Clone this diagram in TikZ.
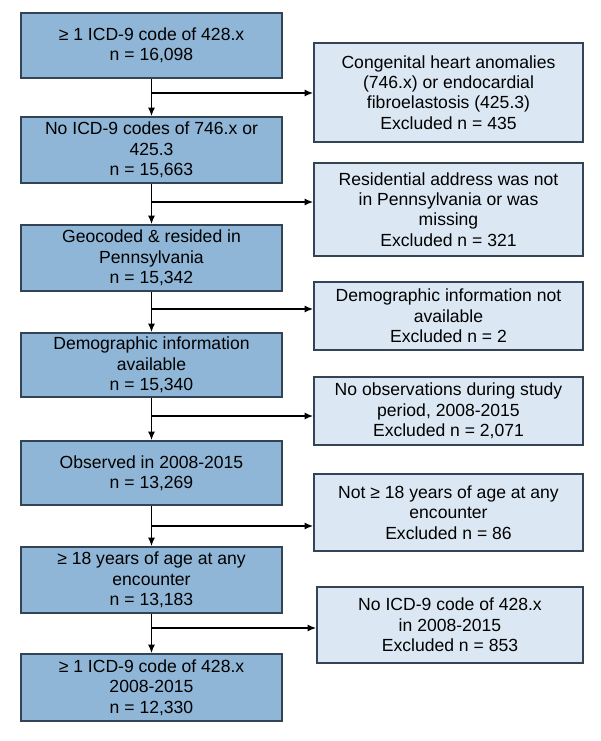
\documentclass[tikz,border=0pt]{standalone}
\usepackage{fontspec}
\setmainfont{Liberation Sans}
\usetikzlibrary{arrows.meta,calc}

\definecolor{keptblue}{RGB}{143,182,214}
\definecolor{exclblue}{RGB}{219,232,243}
\definecolor{boxline}{RGB}{50,68,86}

\begin{document}
\begin{tikzpicture}[x=0.02cm,y=-0.02cm,
		kept/.style={draw=boxline,line width=1pt,fill=keptblue,align=center,
			minimum width=5.22cm,inner sep=0pt,font=\fontsize{10}{11.6}\selectfont},
		excl/.style={draw=boxline,line width=1pt,fill=exclblue,align=center,
			minimum width=5.38cm,inner sep=0pt,font=\fontsize{10}{11.6}\selectfont},
		flow/.style={-{Latex[length=1.7mm,width=1.4mm]},line width=0.8pt}]
		\useasboundingbox (0,0) rectangle (600,741);
		%----------------------------------------------------
		% Cohort kept at each step (left column)
		%----------------------------------------------------
		\node[kept,minimum height=1.30cm] (K1) at (151.5,45.5) {≥ 1 ICD-9 code of 428.x\\n = 16,098};
		\node[kept,minimum height=1.32cm] (K2) at (151.5,150) {No ICD-9 codes of 746.x or\\425.3\\n = 15,663};
		\node[kept,minimum height=1.32cm] (K3) at (151.5,258) {Geocoded \& resided in\\Pennsylvania\\n = 15,342};
		\node[kept,minimum height=1.28cm] (K4) at (151.5,365) {Demographic information\\available\\n = 15,340};
		\node[kept,minimum height=1.28cm] (K5) at (151.5,473) {Observed in 2008-2015\\n = 13,269};
		\node[kept,minimum height=1.32cm] (K6) at (151.5,580) {≥ 18 years of age at any\\encounter\\n = 13,183};
		\node[kept,minimum height=1.34cm] (K7) at (151.5,687.5) {≥ 1 ICD-9 code of 428.x\\2008-2015\\n = 12,330};

		%----------------------------------------------------
		% Exclusions (right column)
		%----------------------------------------------------
		\node[excl,minimum height=1.98cm] (E1) at (448.5,92.5) {Congenital heart anomalies\\(746.x) or endocardial\\fibroelastosis (425.3)\\Excluded n = 435};
		\node[excl,minimum height=1.86cm] (E2) at (448.5,209.5) {Residential address was not\\in Pennsylvania or was\\missing\\Excluded n = 321};
		\node[excl,minimum height=1.36cm] (E3) at (448.5,316) {Demographic information not\\available\\Excluded n = 2};
		\node[excl,minimum height=1.36cm] (E4) at (448.5,411) {No observations during study\\period, 2008-2015\\Excluded n = 2,071};
		\node[excl,minimum height=1.54cm] (E5) at (448.5,512.5) {Not ≥ 18 years of age at any\\encounter\\Excluded n = 86};
		\node[excl,minimum height=1.52cm,minimum width=5.32cm] (E6) at (450,625) {No ICD-9 code of 428.x\\in 2008-2015\\Excluded n = 853};

		%----------------------------------------------------
		% Branch points on the main line
		%----------------------------------------------------
		\coordinate (J1) at (151.5,93);
		\coordinate (J2) at (151.5,202);
		\coordinate (J3) at (151.5,309);
		\coordinate (J4) at (151.5,416);
		\coordinate (J5) at (151.5,526);
		\coordinate (J6) at (151.5,628);

		\draw [flow] (K1) -- (K2);
		\draw [flow] (K2) -- (K3);
		\draw [flow] (K3) -- (K4);
		\draw [flow] (K4) -- (K5);
		\draw [flow] (K5) -- (K6);
		\draw [flow] (K6) -- (K7);

		\draw [flow] (J1) -- (J1 -| E1.west);
		\draw [flow] (J2) -- (J2 -| E2.west);
		\draw [flow] (J3) -- (J3 -| E3.west);
		\draw [flow] (J4) -- (J4 -| E4.west);
		\draw [flow] (J5) -- (J5 -| E5.west);
		\draw [flow] (J6) -- (J6 -| E6.west);
	\end{tikzpicture}
\end{document}
